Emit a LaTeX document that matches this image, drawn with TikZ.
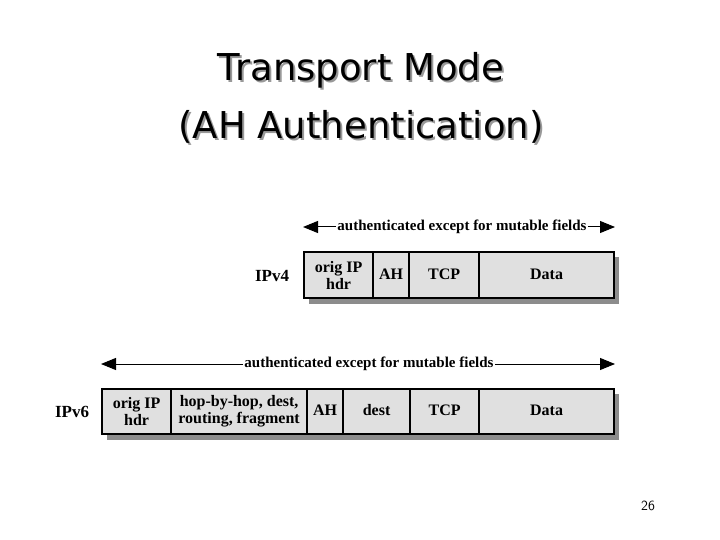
\documentclass[tikz,border=0pt]{standalone}
\usepackage{fontspec}
\setmainfont{Liberation Serif}
\newfontfamily\titlefont{DejaVu Sans}
\usetikzlibrary{arrows.meta}
\begin{document}
\begin{tikzpicture}[x=1pt,y=-1pt,
  cell/.style={draw,line width=2.2pt,fill=black!12,minimum height=46pt,inner sep=0pt,anchor=north west,align=center,font=\bfseries\fontsize{16}{17}\selectfont},
  one/.style={text height=11pt,text depth=3pt},
  shad/.style={fill=black!45},
  lbl/.style={font=\bfseries\fontsize{17}{18}\selectfont,inner sep=1pt},
  top/.style={font=\bfseries\fontsize{15}{16}\selectfont,inner sep=1pt},
  arr/.style={line width=1pt,-{Triangle[length=15pt,width=12pt]}},
  ttl/.style={font=\titlefont\fontsize{37}{40}\selectfont}]
\useasboundingbox (0,0) rectangle (720,540);
% title
\node[ttl,text=black!40] (s1) at (363,72) {Transport Mode};
\node[ttl,text=black!40] (s2) at (363,129) {(AH Authentication)};
\node[ttl] (t1) at (361,70) {Transport Mode};
\node[ttl] (t2) at (361,127) {(AH Authentication)};
% IPv4
\fill[shad] (309,257) rectangle (619,304);
\node[cell,minimum width=69pt] (a1) at (303,251) {orig IP\\hdr};
\node[cell,one,minimum width=36pt] (a2) at (372,251) {AH};
\node[cell,one,minimum width=70pt] (a3) at (408,251) {TCP};
\node[cell,one,minimum width=135pt] (a4) at (478,251) {Data};
\node[lbl] (v4) at (272,276) {IPv4};
\coordinate (l4) at (303,227); \coordinate (r4) at (615,227);
\node[top] (t4) at (462,227) {authenticated except for mutable fields};
\draw[arr] (t4.west) -- (l4); \draw[arr] (t4.east) -- (r4);
% IPv6
\fill[shad] (107,394) rectangle (619,440);
\node[cell,minimum width=69pt,minimum height=45pt] (b1) at (101,388) {orig IP\\hdr};
\node[cell,minimum width=136pt,minimum height=45pt] (b2) at (170,388) {hop-by-hop, dest,\\routing, fragment};
\node[cell,one,minimum width=36pt,minimum height=45pt] (b3) at (306,388) {AH};
\node[cell,one,minimum width=67pt,minimum height=45pt] (b4) at (342,388) {dest};
\node[cell,one,minimum width=69pt,minimum height=45pt] (b5) at (409,388) {TCP};
\node[cell,one,minimum width=135pt,minimum height=45pt] (b6) at (478,388) {Data};
\node[lbl] (v6) at (72,412) {IPv6};
\coordinate (l6) at (101,364); \coordinate (r6) at (615,364);
\node[top] (t6) at (369,364) {authenticated except for mutable fields};
\draw[arr] (t6.west) -- (l6); \draw[arr] (t6.east) -- (r6);
\node[font=\fontfamily{lmss}\selectfont\fontsize{14}{15}\selectfont] (pg) at (648,506) {26};
\end{tikzpicture}
\end{document}
